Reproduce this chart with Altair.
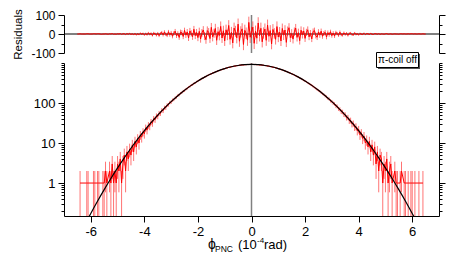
import altair as alt
import pandas as pd

# ---------------- data ----------------
phi = [
    -6.50, -6.45, -6.40, -6.35, -6.30, -6.25, -6.20, -6.15, -6.10, -6.05,
    -6.00, -5.95, -5.90, -5.85, -5.80, -5.75, -5.70, -5.65, -5.60, -5.55,
    -5.50, -5.45, -5.40, -5.35, -5.30, -5.25, -5.20, -5.15, -5.10, -5.05,
    -5.00, -4.95, -4.90, -4.85, -4.80, -4.75, -4.70, -4.65, -4.60, -4.55,
    -4.50, -4.45, -4.40, -4.35, -4.30, -4.25, -4.20, -4.15, -4.10, -4.05,
    -4.00, -3.95, -3.90, -3.85, -3.80, -3.75, -3.70, -3.65, -3.60, -3.55,
    -3.50, -3.45, -3.40, -3.35, -3.30, -3.25, -3.20, -3.15, -3.10, -3.05,
    -3.00, -2.95, -2.90, -2.85, -2.80, -2.75, -2.70, -2.65, -2.60, -2.55,
    -2.50, -2.45, -2.40, -2.35, -2.30, -2.25, -2.20, -2.15, -2.10, -2.05,
    -2.00, -1.95, -1.90, -1.85, -1.80, -1.75, -1.70, -1.65, -1.60, -1.55,
    -1.50, -1.45, -1.40, -1.35, -1.30, -1.25, -1.20, -1.15, -1.10, -1.05,
    -1.00, -0.95, -0.90, -0.85, -0.80, -0.75, -0.70, -0.65, -0.60, -0.55,
    -0.50, -0.45, -0.40, -0.35, -0.30, -0.25, -0.20, -0.15, -0.10, -0.05,
    0.00,
    0.05, 0.10, 0.15, 0.20, 0.25, 0.30, 0.35, 0.40, 0.45, 0.50,
    0.55, 0.60, 0.65, 0.70, 0.75, 0.80, 0.85, 0.90, 0.95, 1.00,
    1.05, 1.10, 1.15, 1.20, 1.25, 1.30, 1.35, 1.40, 1.45, 1.50,
    1.55, 1.60, 1.65, 1.70, 1.75, 1.80, 1.85, 1.90, 1.95, 2.00,
    2.05, 2.10, 2.15, 2.20, 2.25, 2.30, 2.35, 2.40, 2.45, 2.50,
    2.55, 2.60, 2.65, 2.70, 2.75, 2.80, 2.85, 2.90, 2.95, 3.00,
    3.05, 3.10, 3.15, 3.20, 3.25, 3.30, 3.35, 3.40, 3.45, 3.50,
    3.55, 3.60, 3.65, 3.70, 3.75, 3.80, 3.85, 3.90, 3.95, 4.00,
    4.05, 4.10, 4.15, 4.20, 4.25, 4.30, 4.35, 4.40, 4.45, 4.50,
    4.55, 4.60, 4.65, 4.70, 4.75, 4.80, 4.85, 4.90, 4.95, 5.00,
    5.05, 5.10, 5.15, 5.20, 5.25, 5.30, 5.35, 5.40, 5.45, 5.50,
    5.55, 5.60, 5.65, 5.70, 5.75, 5.80, 5.85, 5.90, 5.95, 6.00,
    6.05, 6.10, 6.15, 6.20, 6.25, 6.30, 6.35, 6.40, 6.45, 6.50,
]

counts = [
    0, 0, 1, 0, 0, 0, 0, 1, 1, 0,
    0, 0, 1, 1, 0, 1, 1, 0, 0, 1,
    1, 2, 1, 0, 2, 1, 3, 1, 2, 1,
    3, 2, 4, 1, 3, 5, 2, 6, 4, 7,
    5, 9, 6, 11, 8, 13, 10, 16, 14, 19,
    17, 24, 21, 28, 26, 34, 31, 41, 38, 48,
    46, 56, 55, 66, 64, 77, 76, 89, 91, 103,
    105, 118, 122, 135, 140, 154, 160, 175, 181, 199,
    204, 222, 231, 250, 258, 280, 287, 309, 318, 342,
    351, 376, 386, 410, 421, 448, 458, 485, 496, 523,
    535, 562, 574, 600, 612, 638, 648, 675, 686, 712,
    722, 747, 756, 779, 787, 808, 815, 835, 841, 859,
    864, 880, 883, 896, 898, 909, 909, 918, 915, 922,
    917,
    921, 914, 919, 908, 910, 897, 895, 881, 878, 862,
    858, 840, 834, 814, 806, 786, 777, 755, 745, 722,
    710, 687, 673, 651, 632, 614, 597, 575, 556, 537,
    521, 498, 479, 460, 446, 423, 405, 388, 370, 353,
    340, 320, 304, 289, 278, 259, 245, 232, 218, 206,
    198, 182, 171, 163, 150, 143, 131, 126, 114, 109,
    99, 95, 85, 82, 72, 70, 61, 60, 52, 51,
    43, 44, 36, 37, 30, 31, 25, 26, 20, 22,
    16, 18, 13, 15, 10, 12, 8, 11, 6, 9,
    5, 8, 3, 6, 2, 5, 4, 1, 3, 2,
    4, 1, 2, 3, 1, 0, 2, 1, 1, 0,
    1, 2, 0, 1, 1, 0, 1, 0, 1, 1,
    0, 1, 0, 0, 1, 0, 0, 1, 0, 0,
]

resid = [
    0, 0, 1, 0, 0, 0, 0, 1, 1, 0,
    0, 0, 1, 1, 0, 1, 1, 0, -1, 0,
    0, 1, 0, -1, 1, 0, 2, -1, 0, -1,
    1, 0, 2, -2, 1, 1, -3, 2, -1, 3,
    -2, 1, -3, 2, -4, 1, -3, 4, -1, 3,
    -5, 2, -4, 6, -2, 3, -8, 5, 1, -6,
    4, -9, 3, 8, -5, 11, -2, -7, 12, -4,
    6, -12, 4, 15, -9, 2, -18, 10, 7, -13,
    19, -6, 11, -21, 16, 3, -14, 25, -9, 8,
    -19, 14, -26, 6, 21, -11, -30, 18, 9, -24,
    35, -15, 4, 29, -33, 12, -8, 40, -21, 17,
    -36, 22, -5, 45, -28, 9, -47, 31, 14, -20,
    52, -38, 11, 27, -55, 19, 4, -32, 61, -17,
    8,
    36, -49, 14, -22, 58, -9, 30, -41, 5, 26,
    -33, 47, -12, 18, -52, 24, 3, -28, 39, -16,
    10, -37, 29, -6, 21, -44, 15, 33, -19, 2,
    -27, 12, 31, -18, 7, -35, 20, -4, 16, -23,
    9, 22, -15, 4, -26, 13, 18, -8, -17, 11,
    -6, 15, -12, 3, 9, -16, 7, -3, 12, -9,
    5, -11, 8, 2, -7, 10, -4, -6, 6, -2,
    4, -7, 3, 5, -3, -5, 6, -2, 1, -4,
    3, -1, -2, 4, -3, 2, 1, -2, 3, -1,
    -2, 2, 1, -1, 2, -2, 1, 0, -1, 1,
    2, -1, 0, 1, -1, 0, 1, 0, 0, -1,
    1, 1, 0, 1, 0, 0, 1, 0, 1, 1,
    0, 1, 0, 0, 1, 0, 0, 1, 0, 0,
]

fit_phi = [-6.25, -6.0, -5.75, -5.5, -5.25, -5.0, -4.75, -4.5, -4.25, -4.0,
           -3.75, -3.5, -3.25, -3.0, -2.75, -2.5, -2.25, -2.0, -1.75, -1.5,
           -1.25, -1.0, -0.75, -0.5, -0.25, 0.0, 0.25, 0.5, 0.75, 1.0,
           1.25, 1.5, 1.75, 2.0, 2.25, 2.5, 2.75, 3.0, 3.25, 3.5,
           3.75, 4.0, 4.25, 4.5, 4.75, 5.0, 5.25, 5.5, 5.75, 6.0, 6.25]
fit_val = [0.084, 0.174, 0.351, 0.686, 1.30, 2.39, 4.27, 7.41, 12.5, 20.4,
           32.3, 49.8, 74.4, 108, 152, 208, 276, 355, 444, 539,
           634, 725, 805, 867, 906, 920, 906, 867, 805, 725,
           634, 539, 444, 355, 276, 208, 152, 108, 74.4, 49.8,
           32.3, 20.4, 12.5, 7.41, 4.27, 2.39, 1.30, 0.686, 0.351, 0.174, 0.084]

x_ticks = [-6, -4, -2, 0, 2, 4, 6]
res_ticks = [-100, -50, 0, 50, 100]
log_ticks = [0.2, 0.3, 0.4, 0.5, 0.6, 0.7, 0.8, 0.9,
             1, 2, 3, 4, 5, 6, 7, 8, 9,
             10, 20, 30, 40, 50, 60, 70, 80, 90,
             100, 200, 300, 400, 500, 600, 700, 800, 900, 1000]
legend_text = ["π-coil off"]

# ---------------- chart ----------------
RED = "#ff0000"
FONT = "Liberation Sans"
W, H_TOP, H_BOT = 375, 38, 153

hist = pd.DataFrame({"phi": phi, "n": counts, "resid": resid})
fit = pd.DataFrame({"phi": fit_phi, "fit": fit_val})

xscale = alt.Scale(domain=[-7, 7], nice=False, zero=False)
res_scale = alt.Scale(domain=[-100, 100], nice=False, zero=False)
log_scale = alt.Scale(type="log", domain=[0.15, 1000], nice=False)

minus = "(datum.value < 0 ? '-' + abs(datum.value) : '' + datum.value)"
res_major = "datum.value % 100 == 0"
log_major = "(datum.value == 1 || datum.value == 10 || datum.value == 100)"

res_axis_left = alt.Axis(values=res_ticks, labelExpr=f"{res_major} ? {minus} : ''",
                         tickSize={"condition": {"test": res_major, "value": 6}, "value": 3},
                         title="Residuals", titlePadding=7, titleFontSize=11.5,
                         labelFontSize=12, labelOverlap=False)
res_axis_right = alt.Axis(orient="right", values=res_ticks, labels=False, title=None,
                          tickSize={"condition": {"test": res_major, "value": 6}, "value": 3})
log_axis_left = alt.Axis(values=log_ticks, labelExpr=f"{log_major} ? '' + datum.value : ''",
                         tickSize={"condition": {"test": log_major, "value": 6}, "value": 3},
                         title=None, labelOverlap=False)
log_axis_right = alt.Axis(orient="right", values=log_ticks, labels=False, title=None,
                          tickSize={"condition": {"test": log_major, "value": 6}, "value": 3})
x_axis = alt.Axis(values=x_ticks, labelExpr=minus, tickSize=6, title=None, labelOverlap=False)

X_top = alt.X("phi:Q", scale=xscale, axis=None)
X_bot = alt.X("phi:Q", scale=xscale, axis=x_axis)

# ---- top: residuals ----
zero_top = alt.Chart(pd.DataFrame({"y": [0]})).mark_rule(color="black", strokeWidth=1).encode(
    y=alt.Y("y:Q", scale=res_scale, axis=res_axis_left))
vline_top = alt.Chart(pd.DataFrame({"phi": [0]})).mark_rule(color="#808080", strokeWidth=1.5).encode(
    x=X_top)
err_top = alt.Chart(hist).transform_calculate(
    e="sqrt(max(datum.n, 1))", lo="datum.resid - datum.e", hi="datum.resid + datum.e"
).mark_rule(color=RED, opacity=0.55, strokeWidth=1).encode(
    x=X_top, y=alt.Y("lo:Q", scale=res_scale, axis=res_axis_left), y2="hi:Q")
line_top = alt.Chart(hist).mark_line(color=RED, strokeWidth=1).encode(
    x=X_top, y=alt.Y("resid:Q", scale=res_scale, axis=res_axis_left))
right_top = alt.Chart(pd.DataFrame({"y": [0]})).mark_rule(opacity=0).encode(
    y=alt.Y("y:Q", scale=res_scale, axis=res_axis_right))

top = alt.layer(alt.layer(zero_top, vline_top, err_top, line_top), right_top).resolve_scale(
    y="independent").properties(width=W, height=H_TOP)

# ---- bottom: histogram ----
vline_bot = alt.Chart(pd.DataFrame({"phi": [0]})).mark_rule(color="#808080", strokeWidth=1.5).encode(
    x=X_bot)
pos = alt.Chart(hist).transform_filter("datum.n > 0")
err_bot = pos.transform_calculate(
    lo="max(datum.n - sqrt(datum.n), 0.1)", hi="datum.n + sqrt(datum.n)"
).mark_rule(color=RED, opacity=0.55, strokeWidth=1, clip=True).encode(
    x=X_bot, y=alt.Y("lo:Q", scale=log_scale, axis=log_axis_left), y2="hi:Q")
line_bot = pos.mark_line(color=RED, strokeWidth=1, clip=True).encode(
    x=X_bot, y=alt.Y("n:Q", scale=log_scale, axis=log_axis_left))
fit_line = alt.Chart(fit).mark_line(color="black", strokeWidth=1.2, interpolate="monotone",
                                    clip=True).encode(
    x=X_bot, y=alt.Y("fit:Q", scale=log_scale, axis=log_axis_left))

lab = alt.Chart(pd.DataFrame({"t": legend_text}))
shadow = lab.mark_rect(color="#555555").encode(
    x=alt.value(314), x2=alt.value(356), y=alt.value(-9), y2=alt.value(6))
box = lab.mark_rect(fill="white", stroke="black", strokeWidth=1).encode(
    x=alt.value(312.5), x2=alt.value(354.5), y=alt.value(-10.5), y2=alt.value(4.5))
box_text = lab.mark_text(font=FONT, fontSize=10, color="black", align="center",
                         baseline="middle").encode(x=alt.value(333.5), y=alt.value(-3), text="t:N")


def piece(txt, x, y, size):
    return alt.Chart(pd.DataFrame({"t": [txt]})).mark_text(
        font=FONT, fontSize=size, color="black", align="left", baseline="alphabetic"
    ).encode(x=alt.value(x), y=alt.value(y), text="t:N")


title_pieces = [
    piece("ϕ", 144, 186, 14),
    piece("PNC", 151, 189, 8.5),
    piece("(10", 174, 186, 13),
    piece("-4", 193, 180, 8),
    piece("rad)", 200, 186, 13),
]

right_bot = alt.Chart(pd.DataFrame({"y": [1]})).mark_rule(opacity=0).encode(
    y=alt.Y("y:Q", scale=log_scale, axis=log_axis_right))

bottom = alt.layer(
    alt.layer(vline_bot, err_bot, line_bot, fit_line, shadow, box, box_text, *title_pieces),
    right_bot,
).resolve_scale(y="independent").properties(width=W, height=H_BOT)

chart = alt.vconcat(top, bottom, spacing=10, bounds="flush").properties(
    padding={"left": 4, "top": 0, "right": 4, "bottom": 2}
).configure_view(stroke=None).configure_axis(
    domainColor="black", tickColor="black", labelColor="black", titleColor="black",
    labelFont=FONT, titleFont=FONT, labelFontSize=13, titleFontSize=12,
    titleFontWeight="normal", domainWidth=1, tickWidth=1, grid=False, labelPadding=3,
)

chart.save("out.html", embed_options={"renderer": "svg", "actions": False})
